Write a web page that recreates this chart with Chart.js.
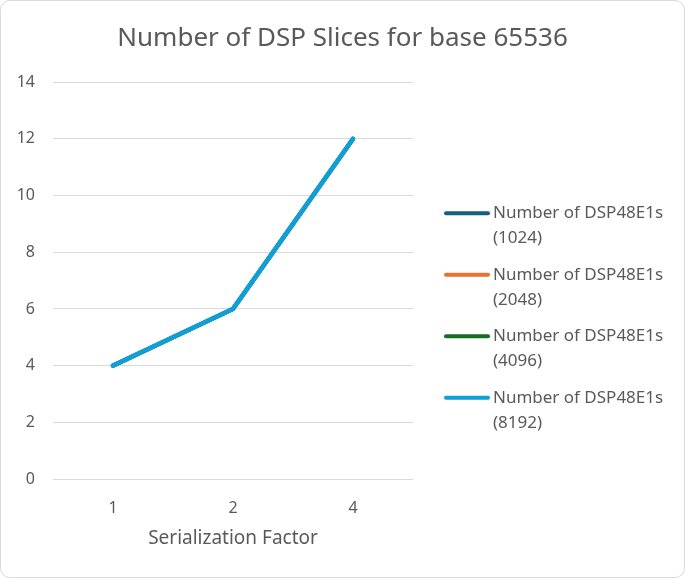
<!DOCTYPE html>
<html>
<head>
<meta charset="utf-8">
<script src="https://cdn.jsdelivr.net/npm/chart.js@4"></script>
<style>
  html, body { margin: 0; padding: 0; background: #fff; }
  #wrap {
    width: 685px; height: 578px; box-sizing: border-box;
    border: 1px solid #d9d9d9; border-radius: 10px; overflow: hidden;
  }
</style>
</head>
<body>
<div id="wrap"><canvas id="myChart"></canvas></div>
<script>
const ctx = document.getElementById('myChart')

Chart.defaults.color = '#595959'
Chart.defaults.font.family = "'Noto Sans', sans-serif"

const TITLE = 'Number of DSP Slices for base 65536'
const X_TITLE = 'Serialization Factor'
const categories = ['1', '2', '4']
const seriesNames = [
    ['Number of DSP48E1s', '(1024)'],
    ['Number of DSP48E1s', '(2048)'],
    ['Number of DSP48E1s', '(4096)'],
    ['Number of DSP48E1s', '(8192)']
]
const seriesColors = ['#156082', '#E97132', '#196B24', '#0F9ED5']
const dsp1024 = [4, 6, 12]
const dsp2048 = [4, 6, 12]
const dsp4096 = [4, 6, 12]
const dsp8192 = [4, 6, 12]
const yTicks = [0, 2, 4, 6, 8, 10, 12, 14]

const seriesValues = [dsp1024, dsp2048, dsp4096, dsp8192]

// legend drawn in its own layout box on the right, so the title stays centred
const sideLegend = {
    id: 'sideLegend',
    beforeInit(chart) {
        const box = {
            position: 'right',
            weight: 100,
            fullSize: false,
            options: {},
            isHorizontal() { return false },
            update(maxW, maxH) {
                this.width = 271
                this.height = maxH
            },
            draw() {
                const c = chart.ctx
                const top = chart.chartArea.top
                c.save()
                c.font = "17px 'Noto Sans', sans-serif"
                c.textBaseline = 'middle'
                c.fillStyle = '#595959'
                chart.data.datasets.forEach((ds, i) => {
                    const y = top + 131 + i * 61.5
                    const x = this.left + 33
                    c.strokeStyle = ds.borderColor
                    c.lineWidth = 4
                    c.lineCap = 'round'
                    c.beginPath()
                    c.moveTo(x, y)
                    c.lineTo(x + 42, y)
                    c.stroke()
                    ds.label.forEach((t, j) => {
                        c.fillText(t, x + 47, y + j * 25)
                    })
                })
                c.restore()
            }
        }
        Chart.layouts.addBox(chart, box)
    }
}

const chart = new Chart(ctx, {
    type: 'line',
    data: {
        labels: categories,
        datasets: seriesValues.map((vals, i) => ({
            label: seriesNames[i],
            data: vals,
            order: seriesValues.length - i,
            borderColor: seriesColors[i],
            backgroundColor: seriesColors[i],
            // the three hidden-under series are a touch thinner so no fringe shows
            borderWidth: i === seriesValues.length - 1 ? 4.8 : 4,
            pointRadius: 0,
            tension: 0,
            borderCapStyle: 'round',
            borderJoinStyle: 'round'
        }))
    },
    options: {
        responsive: true,
        maintainAspectRatio: false,
        animation: false,
        layout: {
            padding: { top: 0, bottom: 27, left: 0, right: 0 }
        },
        plugins: {
            legend: { display: false },
            tooltip: { enabled: false },
            title: {
                display: true,
                text: TITLE,
                color: '#595959',
                font: { size: 26, weight: 'normal' },
                padding: { top: 22, bottom: 28 }
            }
        },
        scales: {
            x: {
                offset: true,
                grid: { display: false, drawTicks: false },
                border: { display: false },
                ticks: { padding: 20, font: { size: 16 } },
                afterFit(scale) {
                    scale.height = 71
                },
                title: {
                    display: true,
                    text: X_TITLE,
                    font: { size: 19 },
                    padding: { top: 0, bottom: 0 }
                }
            },
            y: {
                min: 0,
                max: 14,
                afterBuildTicks(scale) {
                    scale.ticks = yTicks.map(v => ({ value: v }))
                },
                afterFit(scale) {
                    scale.width = 52
                },
                grid: { color: '#d9d9d9', lineWidth: 1, drawTicks: false },
                border: { display: false },
                ticks: { padding: 18, font: { size: 16 } }
            }
        }
    },
    plugins: [sideLegend]
})
</script>
</body>
</html>
